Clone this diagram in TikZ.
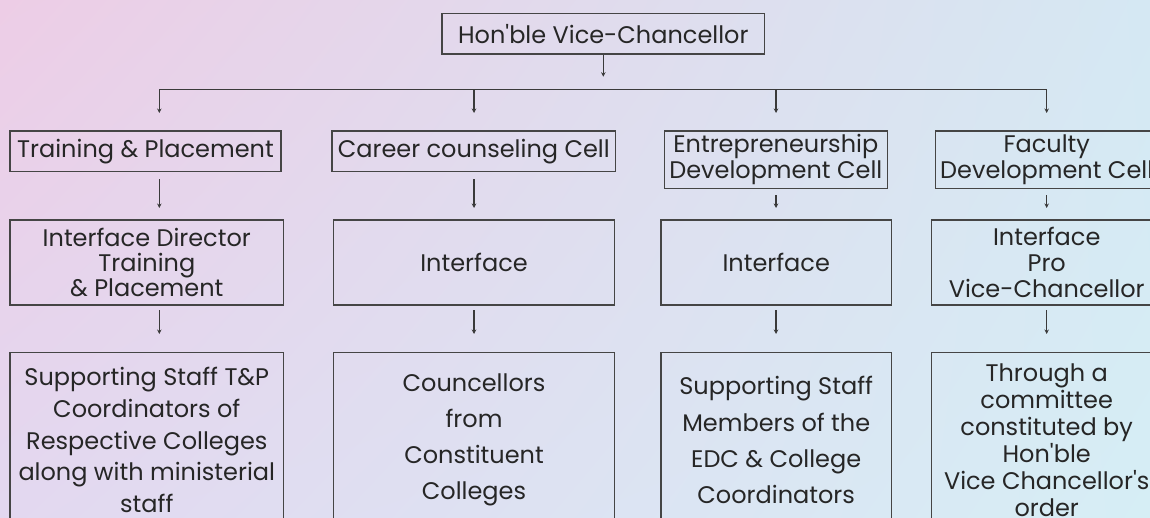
\documentclass[tikz,border=0pt]{standalone}
\usepackage{fontspec}
\setmainfont{Poppins}[Ligatures=TeXOff]
\usetikzlibrary{arrows.meta,shadings}
\definecolor{cTL}{HTML}{EDCDE6}
\definecolor{cTR}{HTML}{D5E8F3}
\definecolor{cBL}{HTML}{E3D8F0}
\definecolor{cBR}{HTML}{D6EEF5}
\definecolor{boxc}{HTML}{454545}
\definecolor{linec}{HTML}{3A3A3A}
\definecolor{txt}{HTML}{262626}
\begin{document}
\begin{tikzpicture}[x=1pt,y=-1pt,
  box/.style={draw=boxc, line width=1.3pt, inner sep=0pt, align=center, text=txt,
    font=\fontsize{24}{26}\selectfont},
  conn/.style={draw=linec, line width=1.1pt, -{Stealth[length=4.5pt,width=4.5pt]}},
  bus/.style={draw=linec, line width=1.1pt}]
\useasboundingbox (0,0) rectangle (1150,517);
\shade[upper left=cTL, upper right=cTR, lower left=cBL, lower right=cBR] (0,0) rectangle (1150,517);
\clip (0,0) rectangle (1150,517);

% top
\node[box, minimum width=322.7pt, minimum height=40.3pt] (vc) at (603.3,33.8) {Hon'ble Vice-Chancellor};

% level 1
\node[box, minimum width=271pt, minimum height=40.7pt] (tp1) at (145.5,151.3) {Training \& Placement};
\node[box, minimum width=283.7pt, minimum height=40.7pt] (cc1) at (473.8,151.3) {Career counseling Cell};
\node[box, minimum width=223pt, minimum height=57.3pt] (ed1) at (775.8,159.7) {Entrepreneurship\\Development Cell};
\node[box, minimum width=222.7pt, minimum height=57.3pt] (fd1) at (1046.7,159.7) {Faculty\\Development Cell};

% level 2
\node[box, minimum width=273.7pt, minimum height=85pt, font=\fontsize{24}{25}\selectfont] (tp2) at (146.8,262.5) {Interface Director\\Training\\\& Placement};
\node[box, minimum width=280.6pt, minimum height=85pt] (cc2) at (474,262.5) {Interface};
\node[box, minimum width=230.3pt, minimum height=85pt] (ed2) at (776.2,262.5) {Interface};
\node[box, minimum width=230pt, minimum height=85pt] (fd2) at (1046.7,262.5) {Interface\\Pro\\Vice-Chancellor};

% level 3
\node[box, minimum width=273.7pt, minimum height=175.7pt, font=\fontsize{24}{31.7}\selectfont] (tp3) at (146.8,440.2) {Supporting Staff T\&P\\Coordinators of\\Respective Colleges\\along with ministerial\\staff};
\node[box, minimum width=280.6pt, minimum height=175.7pt, font=\fontsize{24}{36}\selectfont] (cc3) at (474,440.2) {Councellors\\from\\Constituent\\Colleges};
\node[box, minimum width=230.3pt, minimum height=175.7pt, font=\fontsize{24}{36.3}\selectfont] (ed3) at (776.2,440.2) {Supporting Staff\\Members of the\\EDC \& College\\Coordinators};
\node[box, minimum width=230pt, minimum height=175.7pt, font=\fontsize{24}{27}\selectfont] (fd3) at (1046.7,440.2) {Through a\\committee\\constituted by\\Hon'ble\\Vice Chancellor's\\order};

% connector coordinates
\coordinate (vcE) at (603.3,76.7);
\coordinate (busL) at (159.3,89.3);
\coordinate (busR) at (1046.7,89.3);
\coordinate (b1) at (159.3,89.3);
\coordinate (b2) at (474,89.3);
\coordinate (b3) at (776,89.3);
\coordinate (b4) at (1046.7,89.3);
\coordinate (e1) at (159.3,113);
\coordinate (e2) at (474,113);
\coordinate (e3) at (776,113);
\coordinate (e4) at (1046.7,113);
\coordinate (s1) at (159.3,179);
\coordinate (s2) at (474,179);
\coordinate (s3) at (776,195);
\coordinate (s4) at (1046.7,195);
\coordinate (t1) at (159.3,208);
\coordinate (t2) at (474,208);
\coordinate (t3) at (776,208);
\coordinate (t4) at (1046.7,208);
\coordinate (u1) at (159.3,310);
\coordinate (u2) at (474,310);
\coordinate (u3) at (776,310);
\coordinate (u4) at (1046.7,310);
\coordinate (v1) at (159.3,334);
\coordinate (v2) at (474,334);
\coordinate (v3) at (776,334);
\coordinate (v4) at (1046.7,334);

\draw[conn] (vc.south) -- (vcE);
\draw[bus] (busL) -- (busR);
\foreach \i in {1,2,3,4} {
  \draw[conn] (b\i) -- (e\i);
  \draw[conn] (s\i) -- (t\i);
  \draw[conn] (u\i) -- (v\i);
}
\end{tikzpicture}
\end{document}
